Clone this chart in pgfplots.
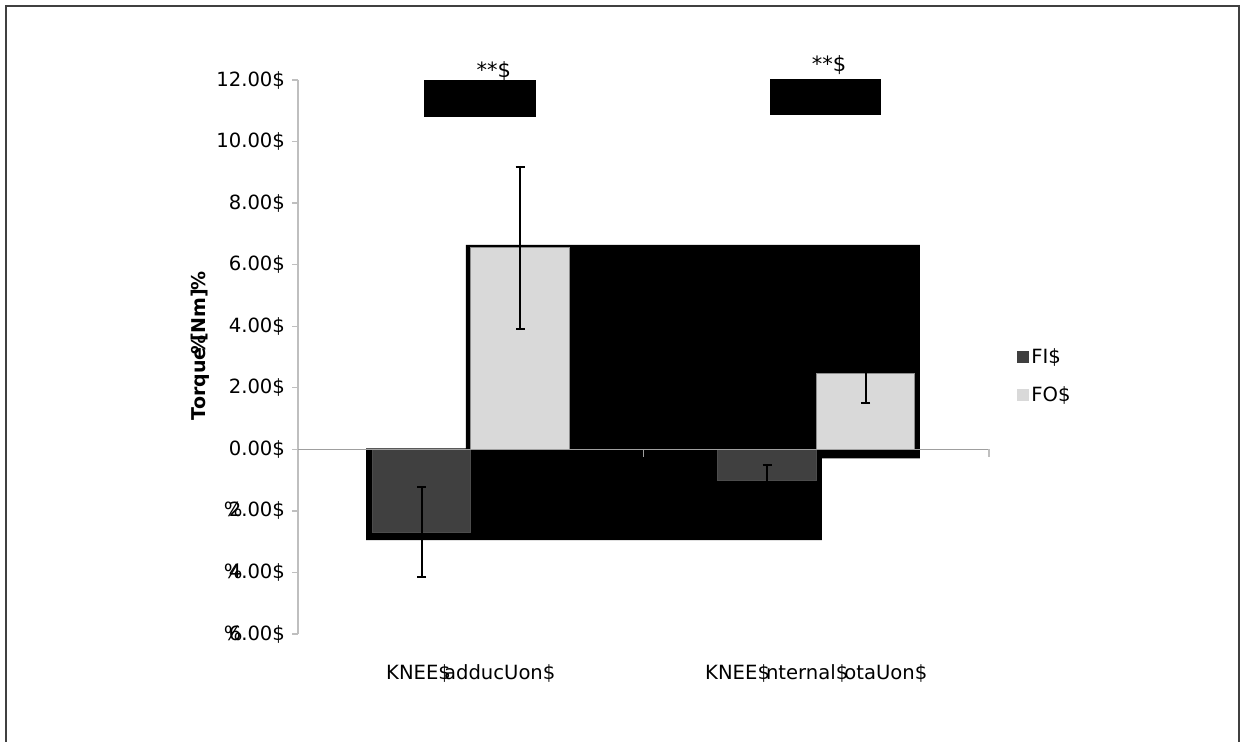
\documentclass[border=0pt]{standalone}
\usepackage{fontspec}
\setmainfont{DejaVu Sans}
\usepackage{pgfplots}
\pgfplotsset{compat=1.18}
\definecolor{fi}{HTML}{404040}
\definecolor{fo}{HTML}{D9D9D9}
\definecolor{axgray}{HTML}{BFBFBF}
\newcommand\negl[1]{\makebox[2.5pt][l]{\%}#1\$}
\begin{document}
\begin{tikzpicture}[x=1pt,y=1pt]
\useasboundingbox (-149,-53.5) rectangle (471,317);
\draw[line width=0.9pt, black!75] (-146,-60) -- (-146,314) -- (470.5,314) -- (470.5,-60);
\begin{axis}[
  at={(0,0)}, anchor=south west,
  scale only axis, width=345.5pt, height=277pt,
  xmin=-0.5, xmax=1.5, ymin=-6, ymax=12,
  clip=false,
  axis y line*=left, axis x line*=bottom,
  x axis line style={draw=none},
  xtick style={draw=none},
  y axis line style={axgray, line width=0.7pt, -},
  ytick style={axgray, line width=0.7pt},
  tick align=outside, major tick length=3pt,
  ytick={-6,-4,...,12},
  yticklabels={\negl{6.00},\negl{4.00},\negl{2.00},0.00\$,2.00\$,4.00\$,6.00\$,8.00\$,10.00\$,12.00\$},
  xtick={0,1},
  xticklabels={KNEE\$\kern-0.35em adducUon\$, KNEE\$\kern-0.2em nternal\$\kern-0.2em otaUon\$},
  xticklabel style={yshift=-9pt},
  tick label style={font=\fontsize{9.8}{11}\selectfont},
  /pgf/number format/assume math mode=true,
  ylabel={Torque\kern-0.35em\%\kern-0.35em[Nm]\kern-0.1em\%},
  ylabel style={at={(axis description cs:-0.142,0.52)}, anchor=center, font=\fontsize{9.5}{11}\selectfont\bfseries},
  ybar=0pt, bar width=49.25pt,
  legend style={at={(axis description cs:1.0405,0.465)}, anchor=west, draw=none, fill=none,
    inner sep=0pt, row sep=8pt, font=\fontsize{9.8}{11}\selectfont,
    nodes={inner sep=1pt, anchor=west},
    /tikz/every even column/.style={column sep=2pt}},
  legend image code/.code={\fill[#1, draw=none] (0pt,-3pt) rectangle (6pt,3pt);},
]
\fill[black] (axis cs:-0.303,0.03) -- (axis cs:-0.0138,0.03) -- (axis cs:-0.0138,6.64)
  -- (axis cs:1.300,6.64) -- (axis cs:1.300,-0.29) -- (axis cs:1.0166,-0.29)
  -- (axis cs:1.0166,-2.95) -- (axis cs:-0.303,-2.95) -- cycle;
\fill[black] (axis cs:-0.135,10.81) rectangle (axis cs:0.189,12.0);
\fill[black] (axis cs:0.866,10.86) rectangle (axis cs:1.187,12.03);
\addplot[fill=fi, draw=black!70, line width=0.5pt,
  error bars/.cd, y dir=both, y explicit,
  error bar style={black, line width=1pt},
  error mark options={rotate=90, mark size=2.25pt, line width=1pt, black}]
  coordinates {(0,-2.69) +- (0,1.47) (1,-1.0) +- (0,0.5)};
\addplot[fill=fo, draw=black!45, line width=0.5pt,
  error bars/.cd, y dir=both, y explicit,
  error bar style={black, line width=1pt},
  error mark options={rotate=90, mark size=2.25pt, line width=1pt, black}]
  coordinates {(0,6.55) +- (0,2.63) (1,2.47) +- (0,0.96)};
\legend{FI\$, FO\$}
\draw[gray!75, line width=0.7pt] (axis cs:-0.5,0) -- (axis cs:1.5,0);
\draw[gray!75, line width=0.7pt] (axis cs:0.5,0) -- ++(0pt,-4pt);
\draw[axgray, line width=0.7pt] (axis cs:1.5,0) -- ++(0pt,-4pt);
\node[font=\fontsize{10.5}{12}\selectfont] at (axis cs:0.067,12.29) {**\$};
\node[font=\fontsize{10.5}{12}\selectfont] at (axis cs:1.037,12.49) {**\$};
\end{axis}
\end{tikzpicture}
\end{document}
